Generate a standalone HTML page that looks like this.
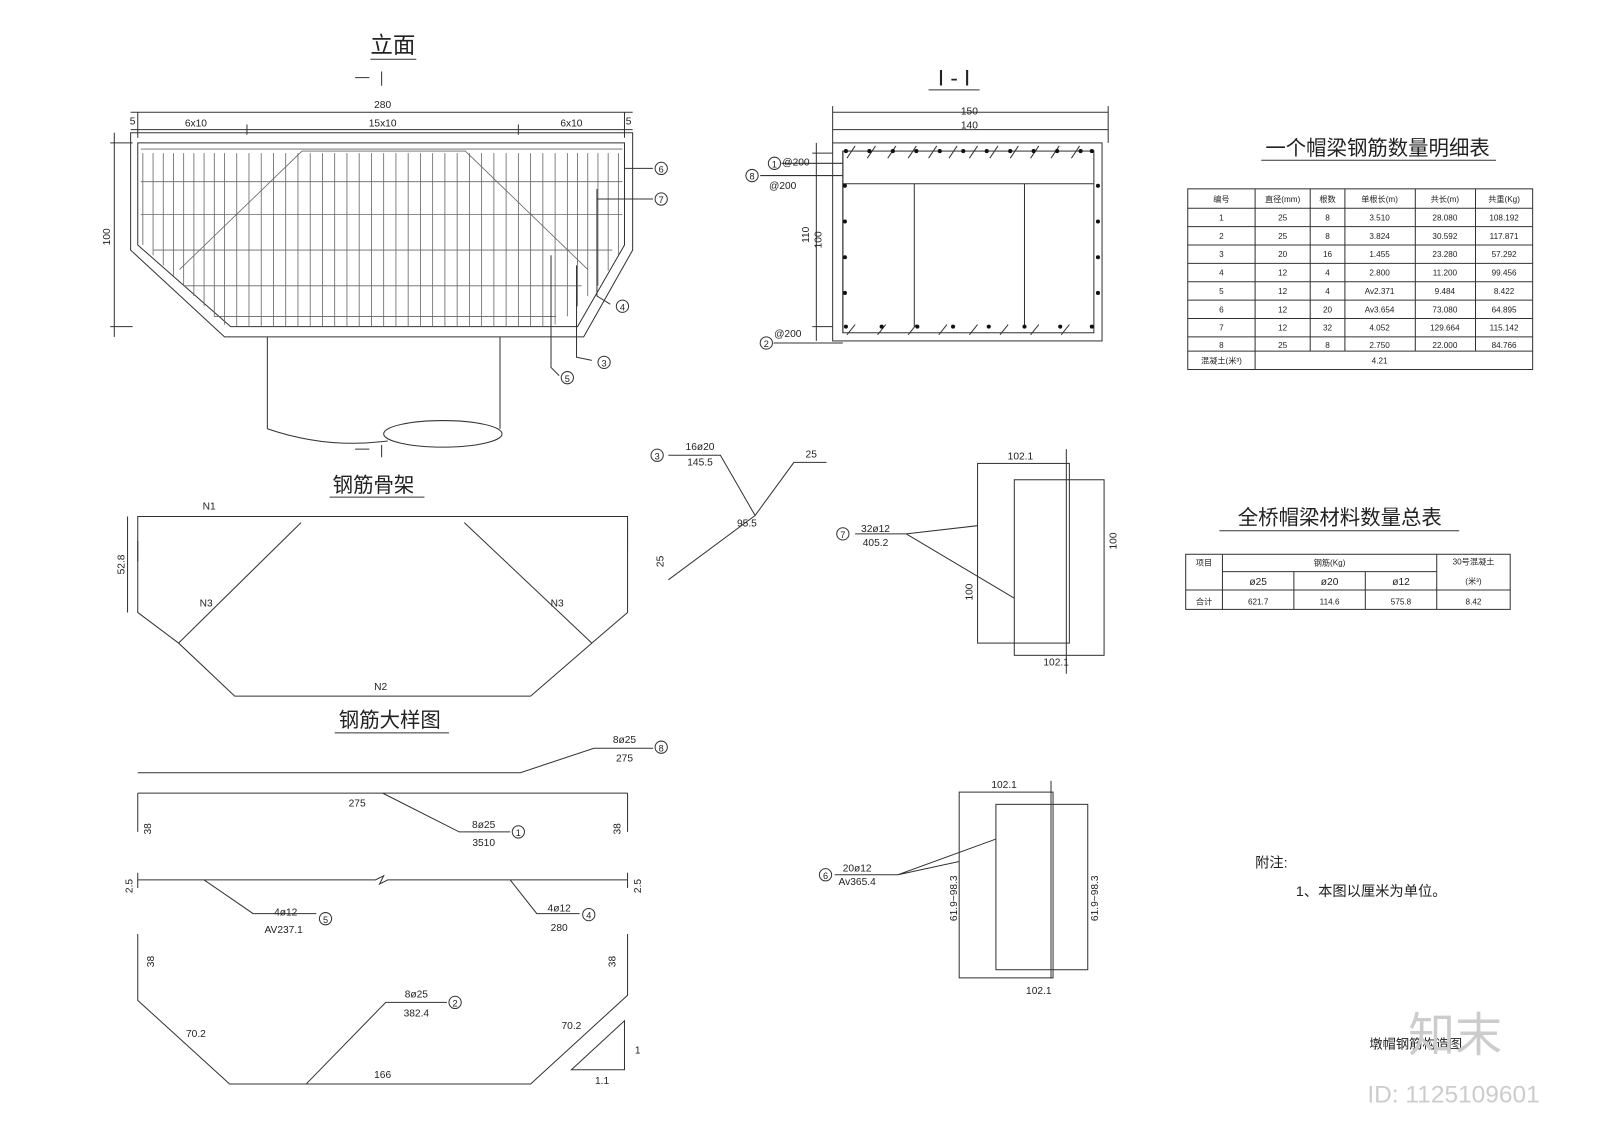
<!DOCTYPE html>
<html><head><meta charset="utf-8"><style>
html,body{margin:0;padding:0;background:#fff;}
svg{display:block}
text{font-family:"Liberation Sans","Noto Sans CJK SC",sans-serif;fill:#222}
</style></head><body>
<svg width="1600" height="1131" viewBox="0 0 1568 1108" preserveAspectRatio="none" xmlns="http://www.w3.org/2000/svg">
<rect width="1568" height="1108" fill="#fff"/>
<g stroke="#333" stroke-width="1" fill="none">
<path d="M135 140 H612 V240 L566 320 H226 L135 240 Z"/>
<path d="M128 130 H620 V245 L572 330 H220 L128 245 Z"/>
<g stroke="#666" stroke-width="0.8">
<path d="M140 150 V240 M150 150 V250 M160 150 V260 M170 150 V270 M180 150 V280 M190 150 V290 M200 150 V300 M210 150 V310 M220 150 V318 M232 150 V320 M244 150 V320 M256 150 V320 M268 150 V320 M280 150 V320 M292 150 V320 M304 150 V320 M316 150 V320 M328 150 V320 M340 150 V320 M352 150 V320 M364 150 V320 M376 150 V320 M388 150 V320 M400 150 V320 M412 150 V320 M424 150 V320 M436 150 V320 M448 150 V320 M460 150 V320 M472 150 V320 M484 150 V320 M496 150 V320 M508 150 V320 M520 150 V320 M532 150 V320 M544 150 V318 M556 150 V310 M566 150 V300 M576 150 V290 M586 150 V280 M596 150 V265 M606 150 V250"/>
<path d="M138 146 H610 M138 178 H610 M138 210 H610 M150 245 H600 M180 280 H570 M210 310 H545"/>
<path d="M176 264 L296 148 H456 L576 264"/>
</g>
<path d="M128 110 H620 M135 110 V135 M612 110 V135 M128 127 H620 M242 122 V132 M508 122 V132"/>
<path d="M112 130 V330 M108 140 H130 M108 320 H130"/>
<path d="M262 330 V420 M490 330 V420"/>
<ellipse cx="434" cy="425" rx="58" ry="13"/>
<path d="M262 420 Q320 440 380 432"/>
<path d="M612 165 H640 M585 195 H640 M585 185 V290 L598 298 M540 250 V360 L548 368 M565 260 V350 L580 353"/>
<circle cx="648" cy="165" r="6"/><circle cx="648" cy="195" r="6"/><circle cx="610" cy="300" r="6"/><circle cx="592" cy="355" r="6"/><circle cx="556" cy="370" r="6"/>
<path d="M348 76 H362 M374 70 V84 M348 440 H362 M374 436 V448"/>
<rect x="816" y="140" width="264" height="194"/>
<rect x="826" y="148" width="246" height="178"/>
<path d="M826 180 H1072 M896 180 V320 M1004 180 V320 M826 148 V326"/>
<path d="M816 110 H1086 M816 127 H1086 M816 104 V140 M1086 104 V140 M800 140 V334 M796 150 H816 M796 320 H816"/>
<path d="M766 160 H826 M745 172 H826 M758 336 H826"/>
<circle cx="759" cy="160" r="6"/><circle cx="737" cy="172" r="6"/><circle cx="751" cy="336" r="6"/>
<path d="M830 155 L838 143 M850 155 L858 143 M870 155 L878 143 M890 155 L898 143 M910 155 L918 143 M930 155 L938 143 M950 155 L958 143 M970 155 L978 143 M990 155 L998 143 M1010 155 L1018 143 M1030 155 L1038 143 M1050 155 L1058 143 M830 328 L838 318 M860 328 L868 318 M890 328 L898 318 M920 328 L928 318 M950 328 L958 318 M980 328 L988 318 M1010 328 L1018 318 M1040 328 L1048 318"/>
<path d="M135 506 H615 V600 L580 630 L520 682 H230 L175 630 L135 600 Z"/>
<path d="M125 506 V600 M135 530 V550 M615 510 V540 M175 630 L295 512 M455 512 L580 630"/>
<path d="M655 446 H706 L740 505 L778 453 H810 M740 505 L655 568"/>
<circle cx="644" cy="446" r="6"/>
<rect x="958" y="454" width="90" height="176"/>
<rect x="994" y="470" width="88" height="172"/>
<path d="M838 523 H888 L958 515 M888 523 L994 586 M1045 440 V660"/>
<circle cx="826" cy="523" r="6"/>
<path d="M135 757 H510 L582 733 H640"/>
<circle cx="648" cy="732" r="6"/>
<path d="M135 777 H615 M135 777 V815 M615 777 V815 M375 777 L450 815 H500"/>
<circle cx="508" cy="815" r="6"/>
<path d="M135 862 H368 L376 858 L372 866 L380 862 H615 M135 855 V870 M615 855 V870 M200 862 L248 895 H310 M500 862 L526 895 H568"/>
<circle cx="319" cy="900" r="6"/><circle cx="577" cy="896" r="6"/>
<path d="M135 915 V980 L225 1062 H520 L615 975 V915 M300 1062 L378 982 H438"/>
<circle cx="446" cy="982" r="6"/>
<path d="M560 1048 H612 V1000 Z"/>
<rect x="940" y="776" width="92" height="182"/>
<rect x="976" y="788" width="90" height="162"/>
<path d="M818 857 H880 L976 822 M880 857 L940 844 M1030 765 V958"/>
<circle cx="809" cy="857" r="6"/>
<rect x="1164" y="185" width="338" height="177"/>
<path d="M1164 204 H1502 M1164 222 H1502 M1164 240 H1502 M1164 258 H1502 M1164 276 H1502 M1164 294 H1502 M1164 312 H1502 M1164 330 H1502 M1164 344 H1502"/>
<path d="M1230 185 V362 M1284 185 V344 M1318 185 V344 M1387 185 V344 M1446 185 V344"/>
<rect x="1162" y="543" width="318" height="54"/>
<path d="M1198 560 H1408 M1162 578 H1480 M1198 543 V597 M1268 560 V597 M1338 560 V597 M1408 543 V597"/>
<path d="M1195 520 H1430 M1236 157 H1466 M363 58 H408 M323 487 H416 M328 718 H440 M910 88 H960"/>
</g>
<g fill="#111">
<circle cx="829" cy="148" r="2"/><circle cx="852" cy="148" r="2"/><circle cx="875" cy="148" r="2"/><circle cx="898" cy="148" r="2"/><circle cx="921" cy="148" r="2"/><circle cx="944" cy="148" r="2"/><circle cx="967" cy="148" r="2"/><circle cx="990" cy="148" r="2"/><circle cx="1013" cy="148" r="2"/><circle cx="1036" cy="148" r="2"/><circle cx="1059" cy="148" r="2"/><circle cx="1070" cy="148" r="2"/>
<circle cx="829" cy="320" r="2"/><circle cx="864" cy="320" r="2"/><circle cx="899" cy="320" r="2"/><circle cx="934" cy="320" r="2"/><circle cx="969" cy="320" r="2"/><circle cx="1004" cy="320" r="2"/><circle cx="1039" cy="320" r="2"/><circle cx="1070" cy="320" r="2"/>
<circle cx="828" cy="182" r="2"/><circle cx="828" cy="217" r="2"/><circle cx="828" cy="252" r="2"/><circle cx="828" cy="287" r="2"/>
<circle cx="1076" cy="182" r="2"/><circle cx="1076" cy="217" r="2"/><circle cx="1076" cy="252" r="2"/><circle cx="1076" cy="287" r="2"/>
</g>
<g font-size="10" text-anchor="middle">
<text x="375" y="106">280</text><text x="192" y="124">6x10</text><text x="375" y="124">15x10</text><text x="560" y="124">6x10</text>
<text x="130" y="122">5</text><text x="616" y="122">5</text>
<text x="950" y="112">150</text><text x="950" y="126">140</text>
<text x="780" y="162">@200</text><text x="767" y="185">@200</text><text x="772" y="330">@200</text>
<text x="648" y="169" font-size="9">6</text><text x="648" y="199" font-size="9">7</text><text x="610" y="304" font-size="9">4</text><text x="592" y="359" font-size="9">3</text><text x="556" y="374" font-size="9">5</text>
<text x="759" y="164" font-size="9">1</text><text x="737" y="176" font-size="9">8</text><text x="751" y="340" font-size="9">2</text>
<text x="205" y="499">N1</text><text x="202" y="594">N3</text><text x="546" y="594">N3</text><text x="373" y="676">N2</text>
<text x="686" y="441">16ø20</text><text x="686" y="456">145.5</text><text x="795" y="448">25</text><text x="732" y="516">95.5</text>
<text x="644" y="450" font-size="9">3</text>
<text x="858" y="521">32ø12</text><text x="858" y="535">405.2</text><text x="826" y="527" font-size="9">7</text>
<text x="1000" y="450">102.1</text><text x="1035" y="652">102.1</text>
<text x="612" y="728">8ø25</text><text x="612" y="746">275</text><text x="648" y="736" font-size="9">8</text>
<text x="350" y="790">275</text><text x="474" y="811">8ø25</text><text x="474" y="829">3510</text><text x="508" y="819" font-size="9">1</text>
<text x="280" y="897">4ø12</text><text x="278" y="914">AV237.1</text><text x="319" y="904" font-size="9">5</text>
<text x="548" y="893">4ø12</text><text x="548" y="912">280</text><text x="577" y="900" font-size="9">4</text>
<text x="408" y="977">8ø25</text><text x="408" y="996">382.4</text><text x="446" y="986" font-size="9">2</text>
<text x="192" y="1016">70.2</text><text x="560" y="1008">70.2</text><text x="375" y="1056">166</text><text x="590" y="1062">1.1</text><text x="625" y="1032">1</text>
<text x="840" y="854">20ø12</text><text x="840" y="867">Av365.4</text><text x="809" y="861" font-size="9">6</text>
<text x="984" y="772">102.1</text><text x="1018" y="974">102.1</text>
</g>
<g font-size="10" text-anchor="middle">
<text transform="translate(108 232) rotate(-90)">100</text>
<text transform="translate(122 553) rotate(-90)">52.8</text>
<text transform="translate(650 550) rotate(-90)">25</text>
<text transform="translate(793 230) rotate(-90)">110</text>
<text transform="translate(805 235) rotate(-90)">100</text>
<text transform="translate(953 580) rotate(-90)">100</text>
<text transform="translate(1094 530) rotate(-90)">100</text>
<text transform="translate(148 812) rotate(-90)">38</text><text transform="translate(608 812) rotate(-90)">38</text>
<text transform="translate(130 868) rotate(-90)">2.5</text><text transform="translate(628 868) rotate(-90)">2.5</text>
<text transform="translate(151 942) rotate(-90)">38</text><text transform="translate(603 942) rotate(-90)">38</text>
<text transform="translate(938 880) rotate(-90)">61.9~98.3</text>
<text transform="translate(1076 880) rotate(-90)">61.9~98.3</text>
</g>
<g text-anchor="middle">
<text x="385" y="52" font-size="22">立面</text>
<text x="935" y="84" font-size="22">I - I</text>
<text x="366" y="482" font-size="20">钢筋骨架</text>
<text x="382" y="712" font-size="20">钢筋大样图</text>
<text x="1350" y="152" font-size="20">一个帽梁钢筋数量明细表</text>
<text x="1313" y="514" font-size="20">全桥帽梁材料数量总表</text>
</g>
<g font-size="8" text-anchor="middle">
<text x="1197" y="198">编号</text><text x="1257" y="198">直径(mm)</text><text x="1301" y="198">根数</text><text x="1352" y="198">单根长(m)</text><text x="1416" y="198">共长(m)</text><text x="1474" y="198">共重(Kg)</text>
<text x="1197" y="216">1</text><text x="1257" y="216">25</text><text x="1301" y="216">8</text><text x="1352" y="216">3.510</text><text x="1416" y="216">28.080</text><text x="1474" y="216">108.192</text>
<text x="1197" y="234">2</text><text x="1257" y="234">25</text><text x="1301" y="234">8</text><text x="1352" y="234">3.824</text><text x="1416" y="234">30.592</text><text x="1474" y="234">117.871</text>
<text x="1197" y="252">3</text><text x="1257" y="252">20</text><text x="1301" y="252">16</text><text x="1352" y="252">1.455</text><text x="1416" y="252">23.280</text><text x="1474" y="252">57.292</text>
<text x="1197" y="270">4</text><text x="1257" y="270">12</text><text x="1301" y="270">4</text><text x="1352" y="270">2.800</text><text x="1416" y="270">11.200</text><text x="1474" y="270">99.456</text>
<text x="1197" y="288">5</text><text x="1257" y="288">12</text><text x="1301" y="288">4</text><text x="1352" y="288">Av2.371</text><text x="1416" y="288">9.484</text><text x="1474" y="288">8.422</text>
<text x="1197" y="306">6</text><text x="1257" y="306">12</text><text x="1301" y="306">20</text><text x="1352" y="306">Av3.654</text><text x="1416" y="306">73.080</text><text x="1474" y="306">64.895</text>
<text x="1197" y="324">7</text><text x="1257" y="324">12</text><text x="1301" y="324">32</text><text x="1352" y="324">4.052</text><text x="1416" y="324">129.664</text><text x="1474" y="324">115.142</text>
<text x="1197" y="341">8</text><text x="1257" y="341">25</text><text x="1301" y="341">8</text><text x="1352" y="341">2.750</text><text x="1416" y="341">22.000</text><text x="1474" y="341">84.766</text>
<text x="1197" y="356">混凝土(米³)</text><text x="1352" y="356">4.21</text>
<text x="1180" y="554">项目</text><text x="1303" y="554">钢筋(Kg)</text><text x="1444" y="553">30号混凝土</text><text x="1444" y="572">(米³)</text>
<text x="1233" y="573" font-size="10">ø25</text><text x="1303" y="573" font-size="10">ø20</text><text x="1373" y="573" font-size="10">ø12</text>
<text x="1180" y="592">合计</text><text x="1233" y="592">621.7</text><text x="1303" y="592">114.6</text><text x="1373" y="592">575.8</text><text x="1444" y="592">8.42</text>
</g>
<text x="1230" y="850" font-size="14">附注:</text>
<text x="1270" y="878" font-size="14">1、本图以厘米为单位。</text>
<text x="1342" y="1027" font-size="13">墩帽钢筋构造图</text>
<text x="1380" y="1030" font-size="46" style="fill:#ccc">知末</text>
<text x="1340" y="1080" font-size="24" style="fill:#ccc">ID: 1125109601</text>
</svg>
</body></html>
